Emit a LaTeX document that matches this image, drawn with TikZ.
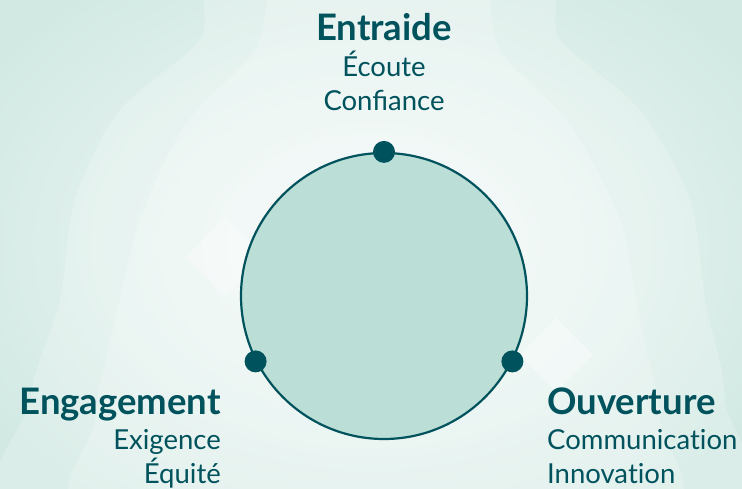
\documentclass[tikz,border=0pt]{standalone}
\usepackage{fontspec}
\setmainfont{Lato}
\definecolor{dteal}{HTML}{00525C}
\definecolor{cfill}{HTML}{BBDFD7}
\definecolor{bgin}{HTML}{F6FBFA}
\definecolor{bgout}{HTML}{D2E9E3}
\tikzset{
  title/.style={font=\fontsize{36.5}{36.5}\selectfont\bfseries, text=dteal, inner sep=0pt},
  item/.style={font=\fontsize{27.5}{27.5}\selectfont, text=dteal, inner sep=0pt},
  dot/.style={circle, fill=dteal, minimum size=22pt, inner sep=0pt},
  ring/.style={circle, draw=dteal, line width=2.2pt, fill=cfill, minimum size=286pt, inner sep=0pt},
  blob/.style={fill=white, opacity=0.2},
  diam/.style={fill=white, opacity=0.35}
}
\begin{document}
\begin{tikzpicture}[x=1pt,y=-1pt]
\useasboundingbox (0,0) rectangle (742,489);
\shade[inner color=bgin, outer color=bgout] (-80,-80) rectangle (822,569);
% wavy background bands
\fill[blob] plot[smooth cycle] coordinates {(230,-30) (200,40) (120,110) (75,200) (60,300) (30,400) (40,520) (705,520) (725,400) (705,300) (690,200) (640,110) (560,40) (530,-30)};
\fill[blob] plot[smooth cycle] coordinates {(290,-30) (255,50) (185,125) (140,220) (115,320) (95,420) (105,520) (645,520) (660,420) (640,320) (620,220) (570,125) (500,50) (470,-30)};
% faint diamonds
\fill[diam] (225,218) -- (264,257) -- (225,296) -- (186,257) -- cycle;
\fill[diam] (556,318) -- (593,355) -- (556,392) -- (519,355) -- cycle;
% main circle
\node[ring] (c) at (384,296) {};
\node[dot] (d1) at (c.90) {};
\node[dot] (d2) at (c.207) {};
\node[dot] (d3) at (c.-27) {};
% texts
\node[title, anchor=base] (t1) at (384,41) {Entraide};
\node[item, anchor=base] (t1a) at (384,77) {Écoute};
\node[item, anchor=base] (t1b) at (384,111) {Confiance};
\node[title, anchor=base east] (t2) at (221,414) {Engagement};
\node[item, anchor=base east] (t2a) at (221,449) {Exigence};
\node[item, anchor=base east] (t2b) at (221,483) {Équité};
\node[title, anchor=base west] (t3) at (547,414) {Ouverture};
\node[item, anchor=base west] (t3a) at (547,449) {Communicat\kern0pt ion};
\node[item, anchor=base west] (t3b) at (547,483) {Innovat\kern0pt ion};
\end{tikzpicture}
\end{document}
